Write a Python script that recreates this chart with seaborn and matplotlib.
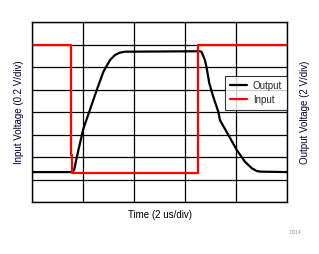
import matplotlib
matplotlib.use("Agg")
import matplotlib.pyplot as plt
import seaborn as sns
import pandas as pd

# time in us, level in divisions (0..8)
out_t = [0.0, 1.56, 1.65, 1.82, 2.01, 2.27, 2.54, 2.80, 3.06, 3.25, 3.45, 3.65,
         6.59, 6.65, 6.78, 6.85, 6.95, 7.11, 7.31, 7.37, 7.70, 8.03, 8.35, 8.62,
         8.81, 8.94, 10.0]
out_v = [1.33, 1.33, 1.42, 2.31, 3.24, 4.09, 4.98, 5.79, 6.31, 6.53, 6.64, 6.68,
         6.70, 6.67, 6.31, 5.96, 5.29, 4.67, 4.0, 3.64, 2.98, 2.31, 1.79, 1.50,
         1.38, 1.35, 1.33]
in_t = [0.0, 1.53, 1.53, 1.57, 1.57, 6.52, 6.52, 10.0]
in_v = [7.0, 7.0, 2.09, 2.09, 1.31, 1.31, 7.0, 7.0]

df_out = pd.DataFrame({"t": out_t, "v": out_v})
df_in = pd.DataFrame({"t": in_t, "v": in_v})

sns.set_style("white")
plt.rcParams['font.family'] = ['Liberation Sans', 'DejaVu Sans']

fig = plt.figure(figsize=(3.19, 2.54), dpi=100)
ax = fig.add_axes([32 / 319, 1 - 202 / 254, 255 / 319, 180 / 254])

sns.lineplot(data=df_out, x="t", y="v", ax=ax, color="black", lw=1.6,
             sort=False, estimator=None, label="Output")
sns.lineplot(data=df_in, x="t", y="v", ax=ax, color="#ff0000", lw=1.6,
             sort=False, estimator=None, label="Input")

ax.set_xlim(0, 10)
ax.set_ylim(0, 8)
ax.set_xticks(range(0, 11, 2))
ax.set_yticks(range(0, 9))
ax.grid(True, color="black", lw=0.9)
ax.tick_params(length=0, labelbottom=False, labelleft=False)
for s in ax.spines.values():
    s.set_color("black")
    s.set_linewidth(1.0)

ax.set_xlabel("Time (2 us/div)", fontsize=7, color="black", labelpad=6)
ax.set_ylabel("Input Voltage (0.2 V/div)", fontsize=7, color="#000033", labelpad=6)
fig.text(305 / 319, 1 - 112 / 254, "Output Voltage (2 V/div)", fontsize=7,
         color="#000033", rotation=90, ha="center", va="center")
fig.text(296 / 319, 1 - 233 / 254, "D014", fontsize=3.5, color="#8899aa",
         ha="center", va="center")

leg = ax.legend(loc="upper right", bbox_to_anchor=(1.0, 0.70), fontsize=7,
                frameon=True, fancybox=False, borderaxespad=0, handlelength=1.8,
                handletextpad=0.6, borderpad=0.5, labelspacing=0.4)
leg.get_frame().set_edgecolor("black")
leg.get_frame().set_linewidth(0.8)

fig.savefig("out.png", dpi=100)
